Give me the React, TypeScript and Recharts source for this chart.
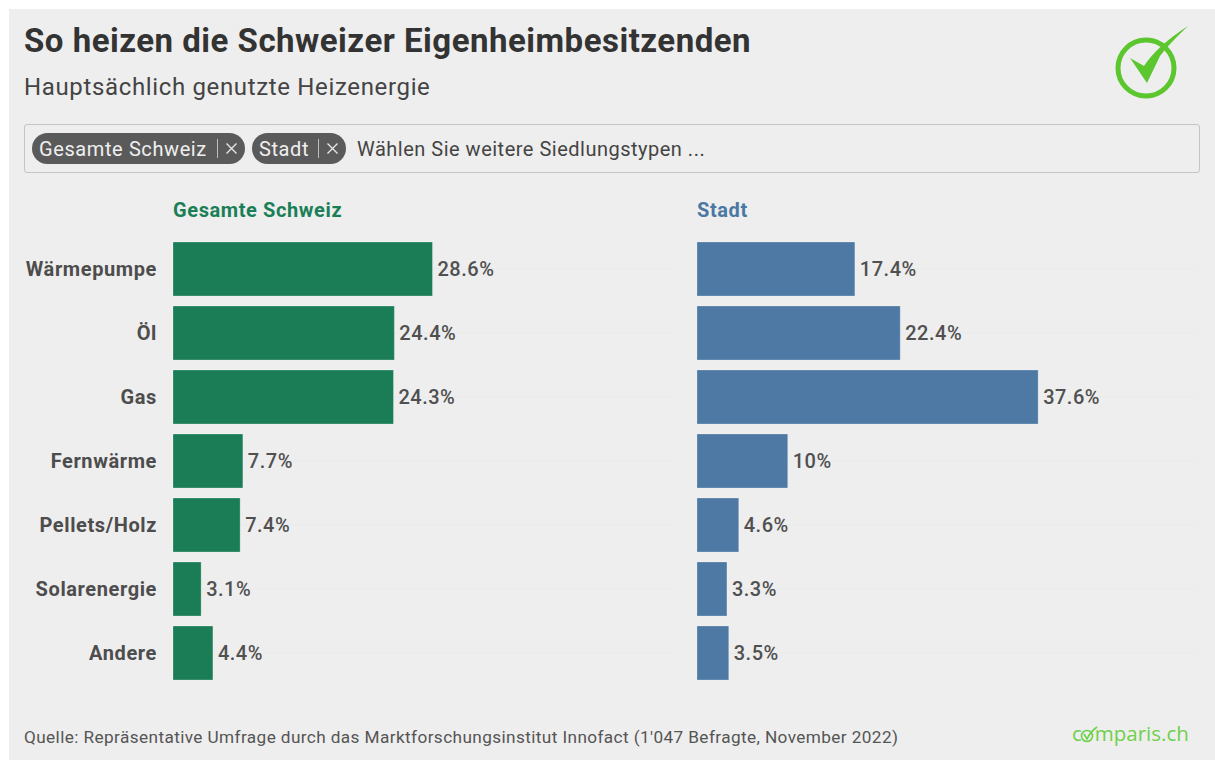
import React from "react";
import { BarChart, Bar, XAxis, YAxis, CartesianGrid, LabelList } from "recharts";

const categories = ["Wärmepumpe", "Öl", "Gas", "Fernwärme", "Pellets/Holz", "Solarenergie", "Andere"];
const gesamt = [28.6, 24.4, 24.3, 7.7, 7.4, 3.1, 4.4];
const stadt = [17.4, 22.4, 37.6, 10, 4.6, 3.3, 3.5];
const gesamtRows = categories.map((name, i) => ({ name, value: gesamt[i] }));
const stadtRows = categories.map((name, i) => ({ name, value: stadt[i] }));

const abs = (left: number, top: number, extra: React.CSSProperties = {}): React.CSSProperties => ({
  position: "absolute", left, top, whiteSpace: "nowrap", ...extra,
});

function Panel({ rows, color, left, showAxis }: { rows: { name: string; value: number }[]; color: string; left: number; showAxis: boolean }) {
  const yW = showAxis ? 173 : 0;
  return (
    <div style={{ position: "absolute", left, top: 237 }}>
      <BarChart width={yW + 499} height={448} data={rows} layout="vertical" margin={{ top: 0, right: 0, bottom: 0, left: 0 }} barCategoryGap={5}>
        <CartesianGrid horizontal vertical={false} syncWithTicks stroke="#ececec" strokeWidth={2} />
        <XAxis type="number" domain={[0, 55]} hide />
        <YAxis
          type="category"
          dataKey="name"
          width={yW}
          hide={!showAxis}
          axisLine={false}
          tickLine={false}
          tickMargin={10}
          interval={0}
          tick={{ fill: "#4d4d4d", fontSize: 20, fontWeight: 700, fontFamily: "Roboto", letterSpacing: 0.6 }}
        />
        <Bar dataKey="value" fill={color} stroke="#ffffff" strokeOpacity={0.25} isAnimationActive={false}>
          <LabelList
            dataKey="value"
            position="right"
            offset={5}
            formatter={(v: number) => `${v}%`}
            style={{ fill: "#505050", fontSize: 20, fontWeight: 500, fontFamily: "Roboto", letterSpacing: 0.5 }}
          />
        </Bar>
      </BarChart>
    </div>
  );
}

function Chip({ left, width, label }: { left: number; width: number; label: string }) {
  return (
    <div style={{ position: "absolute", left, top: 133, width, height: 31, borderRadius: 16, background: "#5a5a5a", color: "#efefef", fontSize: 20, lineHeight: "31px", letterSpacing: 0.6 }}>
      <span style={{ position: "absolute", left: 7, top: 1 }}>{label}</span>
      <span style={{ position: "absolute", right: 27, top: 6, width: 1, height: 19, background: "#bdbdbd" }} />
      <svg style={{ position: "absolute", right: 8, top: 10 }} width={11} height={11}>
        <path d="M0.5 0.5 L10.5 10.5 M10.5 0.5 L0.5 10.5" stroke="#e6e6e6" strokeWidth={1.4} />
      </svg>
    </div>
  );
}

export default function App() {
  return (
    <div style={{ position: "absolute", left: 0, top: 0, width: 1215, height: 760, background: "#ffffff", overflow: "hidden", fontFamily: "Roboto" }}>
      <div style={{ position: "absolute", left: 9, top: 9, width: 1206, height: 751, background: "#eeeeee" }} />
      <div style={abs(24, 22, { fontSize: 33, fontWeight: 700, color: "#333333", lineHeight: "38px", letterSpacing: 0.5 })}>So heizen die Schweizer Eigenheimbesitzenden</div>
      <div style={abs(24, 73, { fontSize: 24, color: "#444444", lineHeight: "28px", letterSpacing: 0.65 })}>Hauptsächlich genutzte Heizenergie</div>

      <svg style={{ position: "absolute", left: 1105, top: 20 }} width={95} height={85}>
        <circle cx={41} cy={48} r={28} fill="none" stroke="#5cc62e" strokeWidth={5} />
        <path d="M25 38 L39 46 Q52 26 83 6 Q64 24 55 36 L42 63 Z" fill="#5cc62e" />
      </svg>

      <div style={{ position: "absolute", left: 24, top: 124, width: 1174, height: 47, border: "1.5px solid #c4c4c4", borderRadius: 3 }} />
      <Chip left={32} width={213} label="Gesamte Schweiz" />
      <Chip left={252} width={94} label="Stadt" />
      <div style={abs(357, 134, { fontSize: 20, color: "#444444", lineHeight: "31px", letterSpacing: 0.5 })}>Wählen Sie weitere Siedlungstypen ...</div>

      <div style={abs(173, 198, { fontSize: 20, fontWeight: 700, color: "#1a7f57", lineHeight: "24px", letterSpacing: 0.6 })}>Gesamte Schweiz</div>
      <div style={abs(697, 198, { fontSize: 20, fontWeight: 700, color: "#4a78a3", lineHeight: "24px", letterSpacing: 0.6 })}>Stadt</div>

      <Panel rows={gesamtRows} color="#1a7d56" left={0} showAxis />
      <Panel rows={stadtRows} color="#4e79a4" left={697} showAxis={false} />

      <div style={abs(24, 726, { fontSize: 17.2, color: "#555555", lineHeight: "22px", letterSpacing: 0.4 })}>Quelle: Repräsentative Umfrage durch das Marktforschungsinstitut Innofact (1'047 Befragte, November 2022)</div>
      <div style={abs(1072, 720, { fontSize: 20.5, color: "#6fd04a", lineHeight: "26px", fontFamily: "Open Sans" })}>c<span style={{ display: "inline-block", width: 13 }} />mparis.ch</div>
      <svg style={{ position: "absolute", left: 1078, top: 724 }} width={22} height={22}>
        <circle cx={9} cy={12} r={5.5} fill="none" stroke="#6fd04a" strokeWidth={1.6} />
        <path d="M6 10 L9 15 Q12 8 19 3" fill="none" stroke="#6fd04a" strokeWidth={1.6} />
      </svg>
    </div>
  );
}
